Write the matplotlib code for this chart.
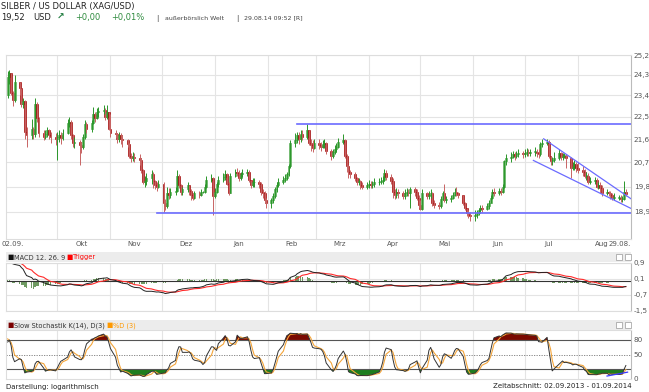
import numpy as np
import pandas as pd
import matplotlib
matplotlib.use("Agg")
import matplotlib.pyplot as plt
import matplotlib.dates as mdates
from matplotlib.patches import Rectangle
from matplotlib.ticker import NullLocator

plt.rcParams['font.family'] = 'DejaVu Sans'

# closes before the window (Jul/Aug 2013), only to warm up MACD and stochastic
close_prior = [19.7, 19.6, 19.6, 19.5, 19.1, 19.4, 19.2, 19.7, 19.9, 19.8,
               20.0, 19.9, 19.7, 19.6, 19.8, 20.0, 20.2, 19.8, 19.8, 19.9,
               19.8, 19.6, 19.7,
               19.4, 19.8, 19.6, 19.6, 19.8, 20.5, 20.2, 21.0, 21.4, 21.5,
               22.5, 23.1, 23.2, 23.2, 23.4, 23.6, 24.0, 24.2, 24.6, 24.5,
               23.8, 23.4]

# daily XAG/USD, weekdays 02.09.2013 - 29.08.2014
close_sep = [24.2, 24.4, 23.5, 23.2, 24.0, 23.7, 23.05, 23.15, 21.9, 21.75, 22.0,
             21.8, 23.05, 22.45, 21.85, 21.7, 21.8, 21.95, 21.75, 21.7, 21.6]
high_sep = [24.45, 24.5, 24.4, 23.6, 24.3, 24.0, 23.7, 23.3, 23.2, 22.1, 22.4,
            22.1, 23.3, 23.1, 22.5, 21.95, 21.95, 22.1, 22.0, 21.9, 21.85]
low_sep = [23.3, 23.9, 23.4, 22.95, 23.1, 23.4, 22.9, 22.85, 21.6, 21.3, 21.6,
           21.6, 21.7, 22.3, 21.7, 21.55, 21.6, 21.7, 21.6, 21.45, 21.35]

close_oct = [21.7, 21.75, 21.65, 21.85, 22.25, 22.3, 21.75, 21.45, 21.5, 21.35, 21.3, 21.7,
             22.2, 22.0, 22.25, 22.6, 22.45, 22.7, 22.75, 22.8, 22.5, 22.7, 22.0]
high_oct = [21.9, 21.95, 21.9, 22.0, 22.4, 22.5, 22.35, 21.8, 21.7, 21.55, 21.5, 21.8,
            22.35, 22.3, 22.35, 22.9, 22.7, 22.85, 22.9, 23.0, 22.85, 23.0, 22.7]
low_oct = [20.8, 21.5, 21.4, 21.55, 21.8, 22.1, 21.6, 21.3, 21.25, 20.6, 21.05, 21.2,
           21.6, 21.85, 21.9, 22.2, 22.3, 22.4, 22.5, 22.6, 22.35, 22.4, 21.95]

close_nov = [21.85, 21.8, 21.6, 21.75, 21.6, 21.55, 21.4, 20.95, 20.85, 20.9, 20.85,
             20.8, 20.4, 19.95, 20.0, 20.1, 20.25, 20.0, 19.85, 19.8, 19.9]
high_nov = [22.6, 21.95, 21.85, 21.9, 21.85, 21.75, 21.6, 21.45, 21.05, 21.1, 21.05,
            21.0, 20.85, 20.45, 20.2, 20.3, 20.4, 20.35, 20.05, 19.95, 20.05]
low_nov = [21.7, 21.65, 21.45, 21.5, 21.4, 21.3, 21.3, 20.85, 20.7, 20.75, 20.7,
           20.6, 20.3, 19.9, 19.8, 19.85, 19.9, 19.75, 19.7, 19.65, 19.75]

close_dec = [19.2, 19.1, 19.55, 19.5, 19.6, 19.65, 20.2, 19.85, 19.6, 19.7, 19.85,
             19.65, 19.5, 19.4, 19.55, 19.5, 19.6, 19.6, 19.8, 20.05, 20.1, 19.45]
high_dec = [19.95, 19.35, 19.8, 19.75, 19.75, 19.8, 20.4, 20.25, 19.9, 19.8, 19.95,
            19.85, 19.7, 19.55, 19.65, 19.65, 19.7, 19.65, 19.9, 20.2, 20.25, 20.15]
low_dec = [18.9, 18.95, 19.05, 19.35, 19.4, 19.5, 19.6, 19.75, 19.5, 19.5, 19.6,
           19.5, 19.3, 19.3, 19.35, 19.4, 19.45, 19.55, 19.55, 19.75, 19.95, 18.8]

close_jan = [19.6, 19.9, 20.05, 20.15, 20.25, 19.9, 19.55, 20.2, 20.35, 20.3, 20.1, 20.25,
             20.3, 20.35, 20.05, 19.85, 19.95, 19.95, 19.9, 19.6, 19.55, 19.3, 19.2]
high_jan = [19.75, 19.95, 20.2, 20.3, 20.4, 20.3, 19.95, 20.3, 20.45, 20.5, 20.4, 20.35,
            20.45, 20.45, 20.4, 20.05, 20.1, 20.1, 20.05, 19.95, 19.7, 19.65, 19.4]
low_jan = [19.4, 19.55, 19.8, 19.95, 20.05, 19.85, 19.5, 19.55, 20.15, 20.2, 20.0, 20.05,
           20.15, 20.2, 19.95, 19.75, 19.8, 19.8, 19.75, 19.5, 19.4, 19.2, 19.05]

close_feb = [19.3, 19.45, 19.7, 19.85, 19.95, 20.05, 20.1, 20.25, 20.55, 21.45,
             21.55, 21.75, 21.6, 21.8, 21.7, 21.95, 21.45, 21.35, 21.25, 21.45]
high_feb = [19.4, 19.55, 19.8, 19.95, 20.1, 20.2, 20.25, 20.35, 20.65, 21.55,
            21.85, 21.9, 21.9, 21.95, 21.95, 22.2, 21.95, 21.6, 21.55, 21.6]
low_feb = [19.05, 19.2, 19.4, 19.6, 19.8, 19.9, 19.95, 20.05, 20.2, 20.5,
           21.3, 21.45, 21.4, 21.5, 21.55, 21.6, 21.35, 21.15, 21.1, 21.2]

close_mar = [21.35, 21.3, 21.4, 21.45, 21.15, 20.95, 21.1, 21.2, 21.3, 21.5, 21.55,
             20.95, 20.55, 20.35, 20.25, 20.1, 19.95, 20.0, 19.85, 19.8, 19.85]
high_mar = [21.6, 21.5, 21.55, 21.6, 21.5, 21.2, 21.2, 21.35, 21.45, 21.65, 21.8,
            21.6, 21.0, 20.6, 20.4, 20.35, 20.15, 20.1, 20.05, 19.95, 19.95]
low_mar = [21.2, 21.15, 21.25, 21.25, 21.0, 20.8, 20.85, 21.0, 21.1, 21.25, 21.4,
           20.85, 20.35, 20.1, 20.1, 20.0, 19.85, 19.85, 19.7, 19.7, 19.7]

close_apr = [19.9, 19.85, 19.9, 19.95, 19.95, 20.0, 20.05, 20.3, 20.15, 20.0, 19.6,
             19.5, 19.6, 19.55, 19.45, 19.55, 19.6, 19.55, 19.7, 19.6, 19.4, 19.15]
high_apr = [20.05, 20.0, 20.0, 20.1, 20.1, 20.15, 20.2, 20.45, 20.4, 20.25, 20.1,
            19.7, 19.75, 19.7, 19.65, 19.7, 19.75, 19.7, 19.8, 19.8, 19.7, 19.5]
low_apr = [19.75, 19.75, 19.75, 19.8, 19.85, 19.9, 19.9, 20.0, 20.05, 19.9, 19.4,
           19.35, 19.4, 19.4, 19.35, 19.35, 19.45, 19.45, 19.05, 19.45, 19.3, 19.05]

close_may = [19.0, 19.55, 19.45, 19.5, 19.55, 19.2, 19.15, 19.1, 19.35, 19.55, 19.3,
             19.35, 19.4, 19.5, 19.6, 19.55, 19.5, 19.2, 19.05, 18.85, 18.8, 18.75]
high_may = [19.3, 19.7, 19.6, 19.65, 19.7, 19.6, 19.3, 19.25, 19.45, 19.65, 19.9,
            19.45, 19.5, 19.6, 19.75, 19.8, 19.6, 19.5, 19.25, 19.05, 18.95, 18.9]
low_may = [18.95, 18.95, 19.35, 19.35, 19.4, 19.1, 19.05, 19.0, 19.05, 19.3, 19.25,
           19.2, 19.25, 19.35, 19.45, 19.45, 19.4, 19.15, 18.95, 18.75, 18.7, 18.6]

close_jun = [18.8, 18.85, 18.95, 19.05, 19.0, 19.1, 19.2, 19.4, 19.6, 19.55, 19.65,
             19.6, 19.8, 20.75, 20.85, 20.9, 21.0, 20.95, 21.0, 21.05, 21.0]
high_jun = [18.95, 18.95, 19.05, 19.15, 19.15, 19.2, 19.3, 19.5, 19.7, 19.75, 19.75,
            19.75, 19.9, 20.8, 21.0, 21.1, 21.15, 21.1, 21.15, 21.2, 21.15]
low_jun = [18.6, 18.7, 18.8, 18.85, 18.9, 18.95, 19.0, 19.2, 19.35, 19.45, 19.5,
           19.5, 19.55, 19.75, 20.6, 20.7, 20.85, 20.8, 20.85, 20.9, 20.85]

close_jul = [21.05, 21.1, 21.05, 21.1, 21.1, 21.05, 21.0, 21.4, 21.45, 21.5, 20.95, 20.75,
             20.8, 20.85, 21.05, 20.9, 20.95, 20.95, 20.85, 20.5, 20.5, 20.65, 20.5]
high_jul = [21.2, 21.25, 21.2, 21.2, 21.3, 21.2, 21.2, 21.5, 21.6, 21.6, 21.55, 20.95,
            20.9, 21.1, 21.2, 21.1, 21.05, 21.05, 21.0, 20.9, 20.7, 20.8, 20.7]
low_jul = [20.9, 20.95, 20.95, 20.95, 20.95, 20.9, 20.85, 20.95, 21.3, 21.35, 20.85, 20.6,
           20.6, 20.7, 20.8, 20.8, 20.8, 20.85, 20.5, 20.1, 20.4, 20.4, 20.35]

close_aug = [20.4, 20.35, 20.2, 20.2, 19.95, 20.0, 20.05, 19.8, 19.85, 19.75, 19.55,
             19.6, 19.55, 19.5, 19.4, 19.4, 19.4, 19.35, 19.35, 19.6, 19.52]
high_aug = [20.7, 20.55, 20.45, 20.35, 20.3, 20.15, 20.15, 20.1, 19.95, 19.95, 19.85,
            19.7, 19.65, 19.65, 19.55, 19.55, 19.5, 19.5, 19.45, 20.0, 19.7]
low_aug = [20.3, 20.2, 20.1, 20.05, 19.9, 19.9, 19.9, 19.75, 19.7, 19.55, 19.45,
           19.5, 19.45, 19.35, 19.3, 19.3, 19.3, 19.25, 19.25, 19.3, 19.45]

price_ticks = [18.9, 19.8, 20.7, 21.6, 22.5, 23.4, 24.3, 25.2]
macd_ticks = [0.9, 0.1, -0.7, -1.5]
stoch_ticks = [80, 50, 0]
month_names = ['Okt', 'Nov', 'Dez', 'Jan', 'Feb', 'Mrz', 'Apr', 'Mai', 'Jun', 'Jul', 'Aug']

# drawn trend lines
support = ('2013-11-28', 18.85)
resistance = ('2014-02-18', 22.2)
channel_upper = [('2014-07-12', 21.61), ('2014-09-01', 19.36)]
channel_lower = [('2014-07-06', 20.77), ('2014-09-01', 19.02)]
stoch_trend = [('2014-08-18', 5.5), ('2014-08-30', 13.5)]

close = np.array(close_sep + close_oct + close_nov + close_dec + close_jan + close_feb
                 + close_mar + close_apr + close_may + close_jun + close_jul + close_aug)
high = np.array(high_sep + high_oct + high_nov + high_dec + high_jan + high_feb
                + high_mar + high_apr + high_may + high_jun + high_jul + high_aug)
low = np.array(low_sep + low_oct + low_nov + low_dec + low_jan + low_feb
               + low_mar + low_apr + low_may + low_jun + low_jul + low_aug)
dates = pd.bdate_range('2013-09-02', '2014-08-29')
x = mdates.date2num(dates.to_pydatetime())

opn = np.r_[close_prior[-1], close[:-1]]
high = np.maximum(high, np.maximum(opn, close))
low = np.minimum(low, np.minimum(opn, close))

# indicators
n0 = len(close_prior)
c_all = pd.Series(close_prior + list(close))
h_all = pd.Series(close_prior + list(high))
l_all = pd.Series(close_prior + list(low))
macd = c_all.ewm(span=12, adjust=False).mean() - c_all.ewm(span=26, adjust=False).mean()
signal = macd.ewm(span=9, adjust=False).mean()
hist = macd - signal
ll = l_all.rolling(14).min()
hh = h_all.rolling(14).max()
fast_k = 100 * (c_all - ll) / (hh - ll)
slow_k = fast_k.rolling(3).mean()
slow_d = slow_k.rolling(3).mean()
macd, signal, hist = macd[n0:].values, signal[n0:].values, hist[n0:].values
slow_k, slow_d = slow_k[n0:].values, slow_d[n0:].values

W, H = 649, 392


def box(l, t, r, b):
    return [l / W, 1 - b / H, (r - l) / W, (b - t) / H]


def num(d):
    return mdates.date2num(pd.Timestamp(d).to_pydatetime())


xlim = (num('2013-09-01'), num('2014-09-01'))
starts = pd.date_range('2013-10-01', '2014-08-01', freq='MS')
month_starts = [num(d) for d in starts]
month_mids = [num(d + pd.Timedelta(days=14)) for d in starts]

fig = plt.figure(figsize=(6.49, 3.92), dpi=100)
fig.patch.set_facecolor('white')


def style_axes(a):
    a.set_xlim(*xlim)
    a.set_xticks(month_starts)
    a.set_xticklabels([])
    a.tick_params(axis='x', length=0)
    a.yaxis.tick_right()
    a.tick_params(axis='y', length=0, pad=2, labelsize=5.2, labelcolor='#555555')
    a.grid(True, color='#e4e4e4', lw=0.8)
    a.set_axisbelow(True)
    for s in a.spines.values():
        s.set_color('#dddddd')
        s.set_linewidth(0.8)
    a.spines['right'].set_color('#bbbbbb')


# ---- price panel
ax = fig.add_axes(box(6, 55, 631, 238.5))
ax.set_yscale('log')
ax.set_ylim(18.0, 25.2)
style_axes(ax)
ax.yaxis.set_minor_locator(NullLocator())
ax.set_yticks(price_ticks)
ax.set_yticklabels([f'{v:.1f}'.replace('.', ',') for v in price_ticks])

up = close >= opn
ax.vlines(x, low, high, colors=np.where(up, '#2a962a', '#c86464'), lw=0.7)
body = np.maximum(np.abs(close - opn), 0.02)
ax.bar(x, body, bottom=np.minimum(opn, close), width=1.1,
       color=np.where(up, '#a8d8a2', '#a00000'),
       edgecolor=np.where(up, '#2a962a', '#a00000'), linewidth=0.4)

blue = '#6b6bff'
ax.plot([num(support[0]), xlim[1]], [support[1]] * 2, color=blue, lw=1.2)
ax.plot([num(resistance[0]), xlim[1]], [resistance[1]] * 2, color=blue, lw=1.2)
for ln in (channel_upper, channel_lower):
    ax.plot([num(p[0]) for p in ln], [p[1] for p in ln], color=blue, lw=0.9)

lab = dict(fontsize=5.0, color='#555555', va='top', transform=ax.get_xaxis_transform())
for m, nm in zip(month_mids, month_names):
    ax.text(m, -0.012, nm, ha='center', **lab)
ax.text(xlim[1], -0.012, '29.08.', ha='right', **lab)
fig.text(1 / W, 1 - 240.7 / H, '02.09.', fontsize=5.0, color='#555555', va='top', ha='left')

# ---- indicator headers


def header(top, items):
    fig.patches.append(Rectangle((6 / W, 1 - (top + 10) / H), 625 / W, 10 / H,
                                 transform=fig.transFigure, facecolor='#ececec',
                                 edgecolor='none', zorder=0))
    for xpx, txt, col in items:
        fig.text(xpx / W, 1 - (top + 7.5) / H, txt, fontsize=4.8, color=col, va='baseline')
    for xpx in (616, 625):
        fig.patches.append(Rectangle((xpx / W, 1 - (top + 8) / H), 6 / W, 6 / H,
                                     transform=fig.transFigure, facecolor='white',
                                     edgecolor='#999999', lw=0.5))


header(252, [(7, '■', '#111111'), (14, 'MACD 12. 26. 9', '#333333'),
             (66, '■', '#ff0000'), (73, 'Trigger', '#ff0000')])
header(320, [(7, '■', '#7a0000'), (14, 'Slow Stochastik K(14), D(3)', '#333333'),
             (106, '■', '#ff9900'), (113, '%D (3)', '#ff9900')])

# ---- MACD panel
am = fig.add_axes(box(6, 263, 631, 311))
am.set_ylim(-1.5, 0.9)
style_axes(am)
am.set_yticks(macd_ticks)
am.set_yticklabels([f'{v:.1f}'.replace('.', ',') for v in macd_ticks])
am.bar(x, hist, width=0.8, color='#6f9a62', linewidth=0)
am.axhline(0, color='#333333', lw=0.8)
am.plot(x, signal, color='#ff2a2a', lw=0.8)
am.plot(x, macd, color='#222222', lw=0.7)

# ---- stochastic panel
ast = fig.add_axes(box(6, 330.3, 631, 378.7))
ast.set_ylim(0, 100)
style_axes(ast)
ast.set_yticks(stoch_ticks)
ast.set_yticklabels([str(v) for v in stoch_ticks])
ast.grid(False, axis='y')
ast.axhline(80, color='#555555', lw=0.8)
ast.axhline(20, color='#555555', lw=0.8)
ast.axhline(50, color='#777777', lw=0.6, ls=(0, (1.5, 1.5)))
ast.fill_between(x, slow_k, 80, where=slow_k > 80, interpolate=True, color='#7a0a00', lw=0)
ast.fill_between(x, slow_k, 20, where=slow_k < 20, interpolate=True, color='#1e7d1e', lw=0)
ast.plot(x, slow_d, color='#f4a53a', lw=0.8)
ast.plot(x, slow_k, color='#333333', lw=0.7)
ast.plot([num(p[0]) for p in stoch_trend], [p[1] for p in stoch_trend], color='#3a3aff', lw=0.9)

# ---- texts
fig.text(1 / W, 1 - 8.5 / H, 'SILBER / US DOLLAR (XAG/USD)', fontsize=6, color='#222222', va='baseline')
green = '#2e8b3e'
fig.text(1 / W, 1 - 20 / H, '19,52', fontsize=6, color='#222222', va='baseline')
fig.text(33 / W, 1 - 20 / H, 'USD', fontsize=6, color='#222222', va='baseline')
fig.text(57 / W, 1 - 20 / H, '↗', fontsize=6.5, color='#1d7a3c', va='baseline', fontweight='bold')
fig.text(75 / W, 1 - 20 / H, '+0,00', fontsize=6, color=green, va='baseline')
fig.text(111 / W, 1 - 20 / H, '+0,01%', fontsize=6, color=green, va='baseline')
fig.text(156 / W, 1 - 20 / H, '|', fontsize=5, color='#444444', va='baseline')
fig.text(165 / W, 1 - 19.5 / H, 'außerbörslich Welt', fontsize=4.5, color='#444444', va='baseline')
fig.text(236 / W, 1 - 20 / H, '|', fontsize=5, color='#444444', va='baseline')
fig.text(244 / W, 1 - 19.5 / H, '29.08.14 09:52 [R]', fontsize=4.5, color='#444444', va='baseline')

fig.text(6 / W, 1 - 388.5 / H, 'Darstellung: logarithmisch', fontsize=5, color='#222222', va='baseline')
fig.text(632 / W, 1 - 388.5 / H, 'Zeitabschnitt: 02.09.2013 - 01.09.2014', fontsize=5,
         color='#222222', va='baseline', ha='right')

fig.savefig('out.png', dpi=100)
